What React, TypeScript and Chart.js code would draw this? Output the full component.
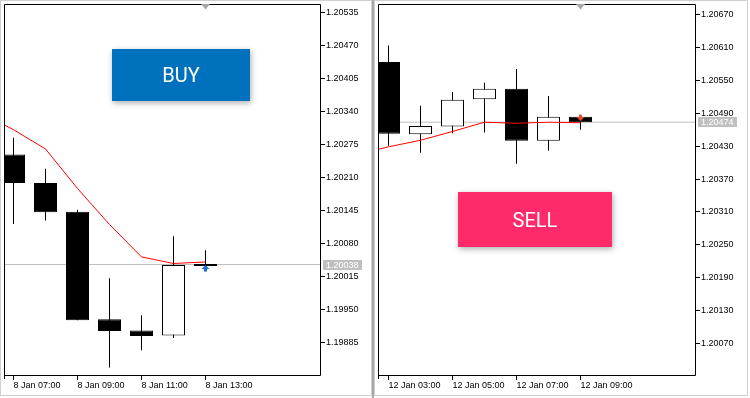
import React, { useEffect, useRef } from 'react';
import { Chart, registerables } from 'chart.js';

Chart.register(...registerables);

// ---------- Left panel (EURUSD H1, 8 Jan) ----------
const leftHours = [7, 8, 9, 10, 11, 12, 13];
const leftOpen = [1.20255, 1.20199, 1.20142, 1.1993, 1.19908, 1.19898, 1.20039];
const leftHigh = [1.20288, 1.20227, 1.20146, 1.20011, 1.19938, 1.20094, 1.20066];
const leftLow = [1.20118, 1.20125, 1.19928, 1.19835, 1.19869, 1.19893, 1.20035];
const leftClose = [1.20199, 1.20141, 1.19928, 1.19907, 1.19897, 1.20037, 1.20035];
const leftMaHours = [6, 7, 8, 9, 10, 11, 12, 13];
const leftMa = [1.20337, 1.20304, 1.20266, 1.20188, 1.20117, 1.20053, 1.2004, 1.20043];
const leftTickHours = [7, 9, 11, 13];
const leftTickLabels = ['8 Jan 07:00', '8 Jan 09:00', '8 Jan 11:00', '8 Jan 13:00'];
const leftPriceTicks = [1.19885, 1.1995, 1.20015, 1.2008, 1.20145, 1.2021, 1.20275, 1.2034, 1.20405, 1.2047, 1.20535];
const leftPriceMin = 1.1982;
const leftPriceMax = 1.20552;
const leftBid = 1.20038;
const leftTradeHour = 13;
const leftTradePrice = 1.20037; // buy

// ---------- Right panel (EURUSD H1, 12 Jan) ----------
const rightHours = [3, 4, 5, 6, 7, 8, 9];
const rightOpen = [1.20584, 1.20452, 1.20466, 1.20516, 1.20535, 1.2044, 1.20484];
const rightHigh = [1.20614, 1.20504, 1.20529, 1.20546, 1.20571, 1.20522, 1.20484];
const rightLow = [1.20431, 1.20418, 1.20454, 1.20455, 1.20398, 1.20422, 1.2046];
const rightClose = [1.20453, 1.20467, 1.20515, 1.20535, 1.2044, 1.20484, 1.20474];
const rightMaHours = [2, 3, 4, 5, 6, 7, 8, 9];
const rightMa = [1.20415, 1.20429, 1.20441, 1.20457, 1.20474, 1.20472, 1.20474, 1.20473];
const rightTickHours = [3, 5, 7, 9];
const rightTickLabels = ['12 Jan 03:00', '12 Jan 05:00', '12 Jan 07:00', '12 Jan 09:00'];
const rightPriceTicks = [1.2007, 1.2013, 1.2019, 1.2025, 1.2031, 1.2037, 1.2043, 1.2049, 1.2055, 1.2061, 1.2067];
const rightPriceMin = 1.20012;
const rightPriceMax = 1.2069;
const rightBid = 1.20474;
const rightTradeHour = 9;
const rightTradePrice = 1.20476; // sell

const HOUR_PX = 32;
const FONT = { family: '"Liberation Sans", Arial, sans-serif', size: 9 };

type PanelCfg = {
  hours: number[]; open: number[]; high: number[]; low: number[]; close: number[];
  maHours: number[]; ma: number[];
  tickHours: number[]; tickLabels: string[];
  priceTicks: number[]; pMin: number; pMax: number;
  bid: number; tradeHour: number; tradePrice: number; tradeDir: 'up' | 'down';
  canvasWidth: number; axisWidth: number; firstOffset: number;
};

function makeArrow(dir: 'up' | 'down', color: string) {
  const c = document.createElement('canvas');
  c.width = 9;
  c.height = 16;
  const g = c.getContext('2d')!;
  g.beginPath();
  if (dir === 'up') {
    g.moveTo(4.5, 8); g.lineTo(8.5, 12); g.lineTo(6, 12); g.lineTo(6, 14.5);
    g.lineTo(3, 14.5); g.lineTo(3, 12); g.lineTo(0.5, 12); g.closePath();
  } else {
    g.moveTo(4.5, 8); g.lineTo(8.5, 4); g.lineTo(6, 4); g.lineTo(6, 1.5);
    g.lineTo(3, 1.5); g.lineTo(3, 4); g.lineTo(0.5, 4); g.closePath();
  }
  g.fillStyle = color;
  g.fill();
  return c;
}

const decorPlugin = {
  id: 'decor',
  afterDatasetsDraw(chart: any, _args: any, opts: any) {
    const { ctx, chartArea: a, scales } = chart;
    ctx.save();
    ctx.strokeStyle = '#000';
    ctx.lineWidth = 1;
    ctx.beginPath();
    ctx.moveTo(a.left + 0.5, a.bottom + 4);
    ctx.lineTo(a.left + 0.5, a.top + 0.5);
    ctx.lineTo(a.right + 0.5, a.top + 0.5);
    ctx.lineTo(a.right + 0.5, a.bottom + 0.5);
    ctx.lineTo(a.left + 0.5, a.bottom + 0.5);
    ctx.stroke();
    const sx = scales.x.getPixelForValue(opts.lastHour);
    ctx.fillStyle = '#a8a8a8';
    ctx.beginPath();
    ctx.moveTo(sx - 4.5, a.top);
    ctx.lineTo(sx + 4.5, a.top);
    ctx.lineTo(sx, a.top + 5.5);
    ctx.closePath();
    ctx.fill();
    ctx.restore();
  },
  afterDraw(chart: any, _args: any, opts: any) {
    const { ctx, chartArea: a, scales } = chart;
    const y = Math.round(scales.y.getPixelForValue(opts.bid));
    const x0 = a.right + 3;
    ctx.save();
    ctx.fillStyle = '#c0c0c0';
    ctx.fillRect(x0, y - 5, 39, 10);
    ctx.fillStyle = '#ffffff';
    ctx.font = `${FONT.size}px ${FONT.family}`;
    ctx.textBaseline = 'middle';
    ctx.textAlign = 'left';
    ctx.fillText(opts.bid.toFixed(5), x0 + 3, y + 0.5);
    ctx.restore();
  },
};

function buildConfig(c: PanelCfg): any {
  const plotLeft = 4;
  const plotWidth = c.canvasWidth - c.axisWidth - plotLeft;
  const xMin = c.hours[0] - c.firstOffset / HOUR_PX;
  const xMax = xMin + plotWidth / HOUR_PX;
  const bodies = c.hours.map((h, i) => ({ x: h, y: [c.open[i], c.close[i]] }));
  const bodyColors = c.hours.map((_, i) => (c.close[i] >= c.open[i] ? '#ffffff' : '#000000'));
  const wicks = c.hours.map((h, i) => ({ x: h, y: [c.low[i], c.high[i]] }));
  const arrowColor = c.tradeDir === 'up' ? '#1a6fc0' : '#e8492c';
  const noPad = (s: any) => {
    s.paddingLeft = 0; s.paddingRight = 0; s.paddingTop = 0; s.paddingBottom = 0;
  };
  return {
    type: 'bar',
    data: {
      datasets: [
        {
          type: 'line', data: [{ x: c.tradeHour, y: c.tradePrice }], showLine: false,
          pointStyle: makeArrow(c.tradeDir, arrowColor), pointRadius: 5, order: -1,
        },
        {
          type: 'line', data: c.maHours.map((h, i) => ({ x: h, y: c.ma[i] })),
          borderColor: '#ff0000', borderWidth: 1, pointRadius: 0, tension: 0, order: 0,
        },
        {
          type: 'bar', data: bodies, backgroundColor: bodyColors, borderColor: '#000000',
          borderWidth: 1, borderSkipped: false, barThickness: 23, grouped: false,
          clip: 0, order: 1, inflateAmount: 0,
        },
        {
          type: 'bar', data: wicks, backgroundColor: '#000000', borderWidth: 0,
          barThickness: 1, grouped: false, clip: 0, order: 2, inflateAmount: 0,
        },
        {
          type: 'line', data: [{ x: xMin, y: c.bid }, { x: xMax, y: c.bid }],
          borderColor: '#c0c0c0', borderWidth: 1, pointRadius: 0, order: 3,
        },
      ],
    },
    options: {
      responsive: false,
      animation: false,
      devicePixelRatio: 1,
      events: [],
      layout: { autoPadding: false, padding: { left: plotLeft, top: 4, right: 0, bottom: 0 } },
      plugins: {
        legend: { display: false },
        tooltip: { enabled: false },
        decor: { lastHour: c.hours[c.hours.length - 1], bid: c.bid },
      },
      scales: {
        x: {
          type: 'linear', min: xMin, max: xMax, offset: false,
          grid: { display: true, drawOnChartArea: false, drawTicks: true, tickLength: 5, color: '#000', offset: false },
          border: { display: false },
          ticks: {
            autoSkip: false, maxRotation: 0, minRotation: 0, align: 'start', padding: 0,
            font: FONT, color: '#000',
            callback: (_v: any, i: number) => c.tickLabels[i],
          },
          afterBuildTicks: (s: any) => { s.ticks = c.tickHours.map((v) => ({ value: v })); },
          afterFit: (s: any) => { s.height = 23; noPad(s); },
        },
        y: {
          type: 'linear', position: 'right', min: c.pMin, max: c.pMax, beginAtZero: false,
          grid: { display: true, drawOnChartArea: false, drawTicks: true, tickLength: 5, color: '#000' },
          border: { display: false },
          ticks: {
            autoSkip: false, padding: 1, font: FONT, color: '#000',
            callback: (v: any) => Number(v).toFixed(5),
          },
          afterBuildTicks: (s: any) => { s.ticks = c.priceTicks.map((v) => ({ value: v })); },
          afterFit: (s: any) => { s.width = c.axisWidth; noPad(s); },
        },
      },
    },
    plugins: [decorPlugin],
  };
}

function Panel({ cfg, left }: { cfg: PanelCfg; left: number }) {
  const ref = useRef<HTMLCanvasElement>(null);
  useEffect(() => {
    const chart = new Chart(ref.current!, buildConfig(cfg));
    return () => chart.destroy();
  }, []);
  return (
    <canvas
      ref={ref}
      width={cfg.canvasWidth}
      height={398}
      style={{ position: 'absolute', left, top: 0, width: cfg.canvasWidth, height: 398 }}
    />
  );
}

const leftCfg: PanelCfg = {
  hours: leftHours, open: leftOpen, high: leftHigh, low: leftLow, close: leftClose,
  maHours: leftMaHours, ma: leftMa, tickHours: leftTickHours, tickLabels: leftTickLabels,
  priceTicks: leftPriceTicks, pMin: leftPriceMin, pMax: leftPriceMax, bid: leftBid,
  tradeHour: leftTradeHour, tradePrice: leftTradePrice, tradeDir: 'up',
  canvasWidth: 372, axisWidth: 52, firstOffset: 9.5,
};

const rightCfg: PanelCfg = {
  hours: rightHours, open: rightOpen, high: rightHigh, low: rightLow, close: rightClose,
  maHours: rightMaHours, ma: rightMa, tickHours: rightTickHours, tickLabels: rightTickLabels,
  priceTicks: rightPriceTicks, pMin: rightPriceMin, pMax: rightPriceMax, bid: rightBid,
  tradeHour: rightTradeHour, tradePrice: rightTradePrice, tradeDir: 'down',
  canvasWidth: 376, axisWidth: 55, firstOffset: 10.5,
};

const btnBase: React.CSSProperties = {
  position: 'absolute',
  display: 'flex',
  alignItems: 'center',
  justifyContent: 'center',
  color: '#ffffff',
  fontFamily: 'Roboto, "Liberation Sans", sans-serif',
  fontSize: 20,
  boxShadow: '1px 2px 6px rgba(0,0,0,0.32)',
};

export default function App() {
  return (
    <div style={{ position: 'absolute', left: 0, top: 0, width: 750, height: 398, background: '#ffffff', overflow: 'hidden' }}>
      <div style={{ position: 'absolute', left: 0, top: 0, width: 370, height: 394, border: '1px solid #cfcfcf' }} />
      <div style={{ position: 'absolute', left: 372, top: 0, width: 2, height: 398, background: '#a8a8a8' }} />
      <div style={{ position: 'absolute', left: 374, top: 0, width: 372, height: 394, border: '1px solid #cfcfcf' }} />
      <Panel cfg={leftCfg} left={0} />
      <Panel cfg={rightCfg} left={374} />
      <div style={{ ...btnBase, left: 112, top: 49, width: 138, height: 52, background: '#0071bc' }}>BUY</div>
      <div style={{ ...btnBase, left: 458, top: 192, width: 154, height: 55, background: '#ff2a69' }}>SELL</div>
    </div>
  );
}
